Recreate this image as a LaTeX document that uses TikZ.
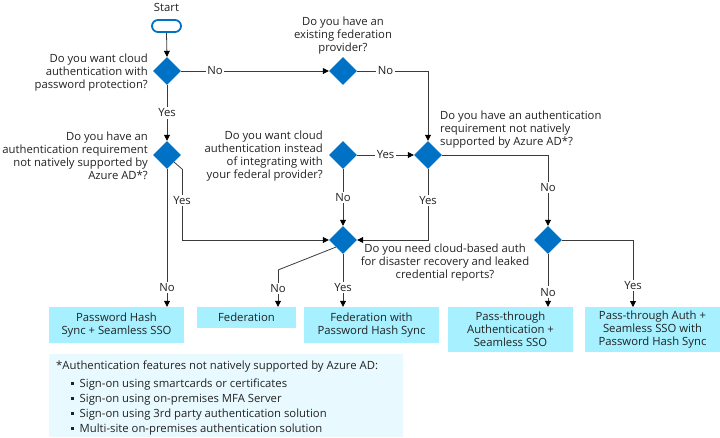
\documentclass[tikz,border=0pt]{standalone}
\usepackage{fontspec}
\setmainfont{Open Sans}
\usetikzlibrary{arrows.meta,positioning,shapes.geometric}
\definecolor{azblue}{HTML}{0072C6}
\definecolor{boxcyan}{HTML}{A6F0FF}
\definecolor{notecyan}{HTML}{E8FAFF}
\definecolor{txt}{HTML}{222222}
\definecolor{wire}{HTML}{3A3A3A}
\newcommand{\notebullet}{\hspace{15pt}\raisebox{2.5pt}{\rule{2.5pt}{2.5pt}}\hspace{6pt}}
\tikzset{
	decision/.style = {diamond, fill = azblue, inner sep = 0mm, minimum width = 28pt, minimum height = 28pt},
	terminal/.style = {draw = azblue, line width = 1.8pt, rounded corners = 6pt, minimum width = 29pt, minimum height = 12pt, inner sep = 0mm},
	question/.style = {inner sep = 0mm, text = txt, font = \fontsize{11.3}{13}\selectfont},
	outcome/.style = {fill = boxcyan, inner sep = 0mm, text = txt, align = center, font = \fontsize{11.3}{13}\selectfont},
	answer/.style = {fill = white, inner sep = 1.5pt, text = txt, font = \fontsize{11.3}{13}\selectfont},
	flow/.style = {draw = wire, line width = 0.8pt, -{Triangle[length = 6pt, width = 6pt, color = black]}},
	bare flow/.style = {draw = wire, line width = 0.8pt}
}
\begin{document}
\begin{tikzpicture}[x = 1pt, y = -1pt]
	\useasboundingbox (0,0) rectangle (720,437);

	\node (start) [terminal] at (166.5,26) {};
	\node (startlbl) [question] at (166.5,7) {Start};

	% questions
	\node (cloud) [decision] at (167,71) {};
	\node (cloudq) [question, anchor = east, align = right] at (148,73) {Do you want cloud\\authentication with\\password protection?};
	\node (fedprov) [decision] at (343,71) {};
	\node (fedprovq) [question, align = center] at (343,36) {Do you have an\\existing federation\\provider?};
	\node (notsup) [decision] at (167,155) {};
	\node (notsupq) [question, anchor = east, align = right] at (148,156) {Do you have an\\authentication requirement\\not natively supported by\\Azure AD*?};
	\node (instead) [decision] at (343,155) {};
	\node (insteadq) [question, anchor = east, align = right] at (323,156) {Do you want cloud\\authentication instead\\of integrating with\\your federal provider?};
	\node (notsupfed) [decision] at (428,155) {};
	\node (notsupfedq) [question, anchor = west, align = left] at (440,130) {Do you have an authentication\\requirement not natively\\supported by Azure AD*?};
	\node (drecov) [decision] at (343,240) {};
	\node (drecovq) [question, align = center] at (445,263) {Do you need cloud-based auth\\for disaster recovery and leaked\\credential reports?};
	\node (ptadr) [decision] at (548,240) {};

	% results
	\node (phs) [outcome, minimum width = 135pt, minimum height = 36pt] at (116.5,325) {Password Hash\\Sync + Seamless SSO};
	\node (fed) [outcome, minimum width = 99pt, minimum height = 21pt] at (246.5,317.5) {Federation};
	\node (fedphs) [outcome, minimum width = 135pt, minimum height = 36pt] at (371.5,325) {Federation with\\Password Hash Sync};
	\node (pta) [outcome, minimum width = 125pt, minimum height = 45pt] at (510.5,329.5) {Pass-through\\Authentication +\\Seamless SSO};
	\node (ptaphs) [outcome, minimum width = 135pt, minimum height = 45pt] at (652.5,329.5) {Pass-through Auth +\\Seamless SSO with\\Password Hash Sync};

	\node (note) [fill = notecyan, minimum width = 354pt, minimum height = 83pt, inner sep = 0mm, anchor = north west] at (49,354) {};
	\node (notetxt) [question, anchor = north west, align = left, font = \fontsize{11.3}{15}\selectfont] at (56,360.5) {*Authentication features not natively supported by Azure AD:\\[3pt]
		\notebullet Sign-on using smartcards or certificates\\
		\notebullet Sign-on using on-premises MFA Server\\
		\notebullet Sign-on using 3rd party authentication solution\\
		\notebullet Multi-site on-premises authentication solution};

	\coordinate (yescorner) at ([xshift = 8pt, yshift = -7pt]notsup.south east);
	\coordinate (nocorner) at (278,270);

	\path [flow] (start.south) -- (cloud.north);
	\path [flow] (cloud.east) -- node [answer, pos = 0.23] {No} (fedprov.west);
	\path [flow] (cloud.south) -- node [answer] {Yes} (notsup.north);
	\path [flow] (fedprov.east) -| node [answer, pos = 0.2] {No} (notsupfed.north);
	\path [flow] (instead.east) -- node [answer] {Yes} (notsupfed.west);
	\path [flow] (instead.south) -- node [answer] {No} (drecov.north);
	\path [flow] (notsupfed.south) |- node [answer, pos = 0.22] {Yes} (drecov.east);
	\path [flow] (notsupfed.east) -| node [answer, pos = 0.73] {No} (ptadr.north);
	\path [bare flow] (notsup.south east) -- (yescorner);
	\path [flow] (yescorner) |- node [answer, pos = 0.22] {Yes} (drecov.west);
	\path [flow] (notsup.south) -- node [answer, pos = 0.86] {No} (notsup.south |- phs.north);
	\path [bare flow] (drecov.south west) -- (nocorner);
	\path [flow] (nocorner) -- node [answer] {No} (nocorner |- fed.north);
	\path [flow] (drecov.south) -- node [answer, pos = 0.64] {Yes} (drecov.south |- fedphs.north);
	\path [flow] (ptadr.east) -| node [answer, pos = 0.84] {Yes} (633,307);
	\path [flow] (ptadr.south) -- node [answer, pos = 0.72] {No} (ptadr.south |- pta.north);
\end{tikzpicture}
\end{document}
